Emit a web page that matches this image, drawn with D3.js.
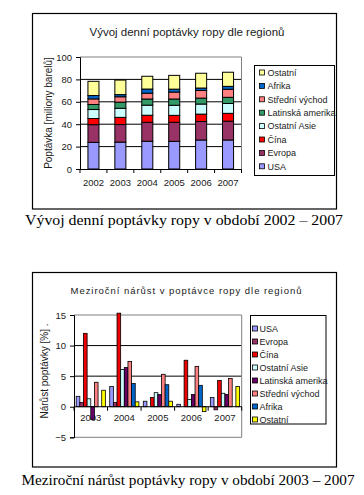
<!DOCTYPE html>
<html>
<head>
<meta charset="utf-8">
<script src="https://cdn.jsdelivr.net/npm/d3@7"></script>
<style>
  body { margin: 0; background: #fff; }
  text { font-family: "Liberation Sans", Arial, sans-serif; fill: #1a1a1a; }
  .caption { font-family: "Liberation Serif", "Times New Roman", serif; fill: #000; }
</style>
</head>
<body>
<div id="viz"></div>
<script>
// --- data ---
var regions = ['USA', 'Evropa', 'Čína', 'Ostatní Asie', 'Latinská amerika', 'Střední východ', 'Afrika', 'Ostatní'];

// daily demand [million barrels], 2002 - 2007
var demand_years = ['2002', '2003', '2004', '2005', '2006', '2007'];
var usa_demand = [23.8, 24.0, 24.8, 24.7, 25.9, 25.9];
var evropa_demand = [15.8, 15.7, 16.9, 17.0, 16.5, 16.8];
var cina_demand = [5.5, 6.4, 6.3, 6.2, 6.6, 7.0];
var ostatni_asie_demand = [8.0, 8.1, 9.0, 9.0, 9.0, 8.8];
var latinska_demand = [4.5, 5.5, 5.5, 5.6, 5.3, 5.5];
var stredni_demand = [5.0, 4.8, 5.2, 6.2, 6.8, 7.2];
var afrika_demand = [3.0, 1.9, 3.7, 2.6, 2.2, 2.6];
var ostatni_demand = [12.7, 13.0, 11.4, 12.3, 13.2, 12.6];
var demand_ticks = [0, 20, 40, 60, 80, 100];

// year-on-year growth [%], 2003 - 2007
var growth_years = ['2003', '2004', '2005', '2006', '2007'];
var usa_growth = [1.7, 3.3, 0.9, 0.4, 1.5];
var evropa_growth = [0.7, 0.7, 0.0, 0.0, -0.5];
var cina_growth = [12.0, 15.3, 1.5, 7.6, 4.3];
var ostatni_asie_growth = [1.3, 6.1, 2.3, 1.2, 2.2];
var latinska_growth = [-2.1, 6.4, 2.0, 2.0, 2.0];
var stredni_growth = [4.0, 7.4, 5.3, 6.6, 4.6];
var afrika_growth = [0.0, 3.8, 3.6, 3.5, 0.0];
var ostatni_growth = [2.7, 0.8, 0.9, -0.8, 3.3];
var growth_ticks = [-5, 0, 5, 10, 15];

var demand_series = [usa_demand, evropa_demand, cina_demand, ostatni_asie_demand,
    latinska_demand, stredni_demand, afrika_demand, ostatni_demand];
var growth_series = [usa_growth, evropa_growth, cina_growth, ostatni_asie_growth,
    latinska_growth, stredni_growth, afrika_growth, ostatni_growth];

var colors1 = ['#9999ff', '#993366', '#ff0000', '#ccffff', '#339966', '#ff8080', '#0066cc', '#ffff99'];
var colors2 = ['#9999ff', '#993366', '#ee0000', '#ccffff', '#660066', '#ff8080', '#0066cc', '#ffff00'];

var svg = d3.select('#viz').append('svg')
    .attr('width', 364)
    .attr('height', 495);

// ================= top chart: stacked bars =================
var top_chart = svg.append('g');
top_chart.append('rect')
    .attr('x', 32.5).attr('y', 13.5)
    .attr('width', 304).attr('height', 195.5)
    .attr('fill', '#fff').attr('stroke', '#000').attr('stroke-width', 1.2);

top_chart.append('text')
    .attr('x', 187).attr('y', 36)
    .attr('text-anchor', 'middle')
    .style('font-size', '11.5px')
    .text('Vývoj denní poptávky ropy dle regionů');

var p1 = { left: 80, right: 241.5, top: 57, bottom: 169 };
var x1 = d3.scaleBand().domain(demand_years).range([p1.left, p1.right]);
var y1 = d3.scaleLinear().domain([0, 100]).range([p1.bottom, p1.top]);

// grid + plot border
top_chart.append('g').selectAll('line')
    .data(demand_ticks.filter(function(t) { return t > 0 && t < 100; }))
    .enter().append('line')
    .attr('x1', p1.left).attr('x2', p1.right)
    .attr('y1', function(d) { return y1(d); }).attr('y2', function(d) { return y1(d); })
    .attr('stroke', '#000').attr('stroke-width', 1);
top_chart.append('path')
    .attr('d', 'M' + p1.left + ',' + y1(100) + 'H' + p1.right + 'V' + y1(0))
    .attr('fill', 'none').attr('stroke', '#808080').attr('stroke-width', 1);

// stacked rows
var rows1 = demand_years.map(function(yr, i) {
    var r = { year: yr };
    regions.forEach(function(reg, k) { r[reg] = demand_series[k][i]; });
    return r;
});
var stack1 = d3.stack().keys(regions)(rows1);
var bw1 = x1.bandwidth() * 0.41;
stack1.forEach(function(layer, k) {
    top_chart.append('g').selectAll('rect')
        .data(layer)
        .enter().append('rect')
        .attr('x', function(d) { return x1(d.data.year) + (x1.bandwidth() - bw1) / 2; })
        .attr('width', bw1)
        .attr('y', function(d) { return y1(d[1]); })
        .attr('height', function(d) { return y1(d[0]) - y1(d[1]); })
        .attr('fill', colors1[k])
        .attr('stroke', '#000').attr('stroke-width', 1);
});

// axes
top_chart.append('g')
    .attr('transform', 'translate(' + p1.left + ',0)')
    .call(d3.axisLeft(y1).tickValues(demand_ticks).tickSize(4).tickPadding(4))
    .call(function(g) {
        g.select('.domain').attr('stroke', '#000');
        g.selectAll('text').style('font-size', '9.5px').attr('fill', '#1a1a1a');
    });
top_chart.append('g')
    .attr('transform', 'translate(0,' + p1.bottom + ')')
    .call(d3.axisBottom(x1).tickSize(0).tickPadding(10))
    .call(function(g) {
        g.select('.domain').attr('stroke', '#000');
        g.selectAll('text').style('font-size', '9.5px').attr('fill', '#1a1a1a');
    });
top_chart.append('g').selectAll('line')
    .data(demand_years.map(function(d) { return x1(d); }).concat([p1.right]))
    .enter().append('line')
    .attr('x1', function(d) { return d; }).attr('x2', function(d) { return d; })
    .attr('y1', p1.bottom).attr('y2', p1.bottom + 4)
    .attr('stroke', '#000');

top_chart.append('text')
    .attr('transform', 'translate(52,113) rotate(-90)')
    .attr('text-anchor', 'middle')
    .style('font-size', '10px')
    .text('Poptávka [miliony barelů]');

// legend (reversed order as in stack)
var leg1 = top_chart.append('g');
leg1.append('rect')
    .attr('x', 254.5).attr('y', 65.5)
    .attr('width', 80).attr('height', 110)
    .attr('fill', '#fff').attr('stroke', '#000');
regions.slice().reverse().forEach(function(reg, i) {
    var k = regions.indexOf(reg);
    var cy = 72.5 + i * 13.4;
    leg1.append('rect')
        .attr('x', 259.5).attr('y', cy - 2.5)
        .attr('width', 5).attr('height', 5)
        .attr('fill', colors1[k]).attr('stroke', '#000').attr('stroke-width', 0.8);
    leg1.append('text')
        .attr('x', 267.5).attr('y', cy + 3.3)
        .style('font-size', '9px')
        .text(reg);
});

svg.append('text')
    .attr('class', 'caption')
    .attr('x', 184).attr('y', 225)
    .attr('text-anchor', 'middle')
    .attr('textLength', 318).attr('lengthAdjust', 'spacingAndGlyphs')
    .style('font-size', '15px')
    .text('Vývoj denní poptávky ropy v období 2002 – 2007');

// ================= bottom chart: grouped bars =================
var bot_chart = svg.append('g');
bot_chart.append('rect')
    .attr('x', 32.5).attr('y', 272.5)
    .attr('width', 304).attr('height', 194.5)
    .attr('fill', '#fff').attr('stroke', '#000').attr('stroke-width', 1.2);

bot_chart.append('text')
    .attr('x', 186).attr('y', 293.5)
    .attr('text-anchor', 'middle')
    .attr('textLength', 231).attr('lengthAdjust', 'spacing')
    .style('font-size', '9.5px')
    .text('Meziroční nárůst v poptávce ropy dle regionů');

var p2 = { left: 74, right: 241.7, top: 315, bottom: 437.3 };
var x2 = d3.scaleBand().domain(growth_years).range([p2.left, p2.right]);
var xs2 = d3.scaleBand().domain(regions).range([0, x2.bandwidth()]).paddingOuter(0.6);
var y2 = d3.scaleLinear().domain([-5, 15]).range([p2.bottom, p2.top]);

bot_chart.append('g').selectAll('line')
    .data([5, 10])
    .enter().append('line')
    .attr('x1', p2.left).attr('x2', p2.right)
    .attr('y1', function(d) { return y2(d); }).attr('y2', function(d) { return y2(d); })
    .attr('stroke', '#000');
bot_chart.append('path')
    .attr('d', 'M' + p2.left + ',' + y2(15) + 'H' + p2.right + 'V' + y2(-5) + 'H' + p2.left)
    .attr('fill', 'none').attr('stroke', '#808080');

// category labels sit under the bars (negative bars cover them)
bot_chart.append('g')
    .attr('transform', 'translate(0,' + y2(0) + ')')
    .call(d3.axisBottom(x2).tickSize(0).tickPadding(8))
    .call(function(g) {
        g.select('.domain').remove();
        g.selectAll('text').style('font-size', '9.5px').attr('fill', '#1a1a1a');
    });

regions.forEach(function(reg, k) {
    bot_chart.append('g').selectAll('rect')
        .data(growth_series[k].map(function(v, i) { return { year: growth_years[i], v: v }; })
            .filter(function(d) { return d.v !== 0; }))
        .enter().append('rect')
        .attr('x', function(d) { return x2(d.year) + xs2(reg); })
        .attr('width', xs2.bandwidth())
        .attr('y', function(d) { return y2(Math.max(0, d.v)); })
        .attr('height', function(d) { return Math.abs(y2(d.v) - y2(0)); })
        .attr('fill', colors2[k])
        .attr('stroke', '#000').attr('stroke-width', 0.8);
});

bot_chart.append('g')
    .attr('transform', 'translate(' + p2.left + ',0)')
    .call(d3.axisLeft(y2).tickValues(growth_ticks).tickSize(4).tickPadding(4))
    .call(function(g) {
        g.select('.domain').attr('stroke', '#000');
        g.selectAll('text').style('font-size', '9.5px').attr('fill', '#1a1a1a');
    });
bot_chart.append('line')
    .attr('x1', p2.left).attr('x2', p2.right)
    .attr('y1', y2(0)).attr('y2', y2(0))
    .attr('stroke', '#000');
bot_chart.append('g').selectAll('line')
    .data(growth_years.map(function(d) { return x2(d); }).concat([p2.right]))
    .enter().append('line')
    .attr('x1', function(d) { return d; }).attr('x2', function(d) { return d; })
    .attr('y1', y2(0)).attr('y2', y2(0) + 4)
    .attr('stroke', '#000');

bot_chart.append('text')
    .attr('transform', 'translate(48,371) rotate(-90)')
    .attr('text-anchor', 'middle')
    .style('font-size', '10px')
    .text('Nárůst poptávky [%] .');

var leg2 = bot_chart.append('g');
leg2.append('rect')
    .attr('x', 250.5).attr('y', 315.5)
    .attr('width', 75.5).attr('height', 108.5)
    .attr('fill', '#fff').attr('stroke', '#000');
regions.forEach(function(reg, k) {
    var cy = 328.5 + k * 13;
    leg2.append('rect')
        .attr('x', 252.5).attr('y', cy - 2.5)
        .attr('width', 5).attr('height', 5)
        .attr('fill', colors2[k]).attr('stroke', '#000').attr('stroke-width', 0.8);
    leg2.append('text')
        .attr('x', 259.5).attr('y', cy + 3.3)
        .style('font-size', '9px')
        .text(reg);
});

svg.append('text')
    .attr('class', 'caption')
    .attr('x', 188).attr('y', 485)
    .attr('text-anchor', 'middle')
    .attr('textLength', 333).attr('lengthAdjust', 'spacingAndGlyphs')
    .style('font-size', '15px')
    .text('Meziroční nárůst poptávky ropy v období 2003 – 2007');
</script>
</body>
</html>
